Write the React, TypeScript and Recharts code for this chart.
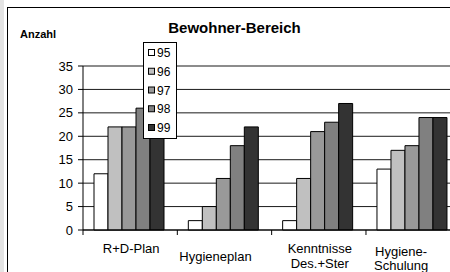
import React from 'react';
import { BarChart, Bar, XAxis, YAxis, CartesianGrid } from 'recharts';

// categories (x axis), split into the lines shown under the axis
const categories = ['R+D-Plan', 'Hygieneplan', 'Kenntnisse Des.+Ster', 'Hygiene- Schulung'];
const categoryLines = [['R+D-Plan'], ['Hygieneplan'], ['Kenntnisse', 'Des.+Ster'], ['Hygiene-', 'Schulung']];

// series: one per year
const years = ['95', '96', '97', '98', '99'];
const values95 = [12, 2, 2, 13];
const values96 = [22, 5, 11, 17];
const values97 = [22, 11, 21, 18];
const values98 = [26, 18, 23, 24];
const values99 = [24, 22, 27, 24];

const yTicks = [0, 5, 10, 15, 20, 25, 30, 35];

const seriesValues = [values95, values96, values97, values98, values99];
const seriesColors = ['#ffffff', '#c0c0c0', '#999999', '#808080', '#333333'];

const data = categories.map((name, i) => {
  const row: Record<string, string | number> = { name };
  years.forEach((y, s) => {
    row[y] = seriesValues[s][i];
  });
  return row;
});

const FONT = '"Liberation Sans", Arial, Helvetica, sans-serif';

// Excel places the category labels a bit irregularly
const labelShiftX = [1, -9, 1, -12];
const labelBaseline = [23, 31, 23, 26];
const labelLineGap = [15, 15, 15, 14];

function CategoryTick(props: any) {
  const { x, y, payload } = props;
  const idx = payload.index ?? 0;
  const half = payload.offset ?? 47.2;
  const lines = categoryLines[idx] || [String(payload.value)];
  return (
    <g>
      <line x1={x - half} x2={x - half} y1={y} y2={y + 5} stroke="#000" />
      <text
        x={x + labelShiftX[idx]}
        y={y + labelBaseline[idx]}
        textAnchor="middle"
        fontSize={13}
        fontFamily={FONT}
        fill="#000"
      >
        {lines.map((l: string, k: number) => (
          <tspan key={k} x={x + labelShiftX[idx]} dy={k === 0 ? 0 : labelLineGap[idx]}>
            {l}
          </tspan>
        ))}
      </text>
    </g>
  );
}

export default function App() {
  return (
    <div
      style={{
        position: 'fixed',
        left: 0,
        top: 0,
        width: 450,
        height: 272,
        overflow: 'hidden',
        background: '#fff',
      }}
    >
      {/* left gray band and black frame */}
      <div style={{ position: 'absolute', left: 0, top: 0, width: 4, height: 272, background: '#e4e4e4' }} />
      <div
        style={{
          position: 'absolute',
          left: 7,
          top: 7,
          width: 460,
          height: 280,
          borderLeft: '1px solid #000',
          borderTop: '1px solid #000',
        }}
      />
      <div style={{ position: 'absolute', left: 0, top: 0 }}>
        <BarChart
          width={480}
          height={272}
          data={data}
          margin={{ top: 66, right: 19.7, bottom: 12, left: 43 }}
          barCategoryGap={11}
          barGap={0}
        >
          <CartesianGrid vertical={false} stroke="#000" strokeOpacity={0.9} />
          <XAxis
            dataKey="name"
            height={30}
            axisLine={{ stroke: '#000' }}
            tickLine={false}
            tickSize={0}
            tickMargin={0}
            interval={0}
            tick={<CategoryTick />}
          />
          <YAxis
            width={40}
            domain={[0, 35]}
            ticks={yTicks}
            interval={0}
            axisLine={{ stroke: '#000' }}
            tickLine={{ stroke: '#000' }}
            tickSize={5}
            tickMargin={5}
            tick={{ fill: '#000', fontSize: 13, fontFamily: FONT }}
          />
          {years.map((y, s) => (
            <Bar
              key={y}
              dataKey={y}
              fill={seriesColors[s]}
              stroke="#000"
              strokeWidth={1}
              isAnimationActive={false}
            />
          ))}
        </BarChart>
      </div>
      <svg
        width={450}
        height={272}
        style={{ position: 'absolute', left: 0, top: 0, pointerEvents: 'none' }}
      >
        <text x={234.5} y={33} textAnchor="middle" fontSize={15} fontWeight="bold" fontFamily={FONT}>
          Bewohner-Bereich
        </text>
        <text x={20} y={38} fontSize={11} fontWeight="bold" fontFamily={FONT}>
          Anzahl
        </text>
        {/* legend */}
        <rect x={143.5} y={42.5} width={33} height={96} fill="#fff" stroke="#000" />
        {years.map((y, s) => (
          <g key={y}>
            <rect x={148.5} y={49.5 + s * 18.75} width={6} height={6} fill={seriesColors[s]} stroke="#000" />
            <text x={157} y={57 + s * 18.75} fontSize={12} fontFamily={FONT}>
              {y}
            </text>
          </g>
        ))}
      </svg>
    </div>
  );
}
